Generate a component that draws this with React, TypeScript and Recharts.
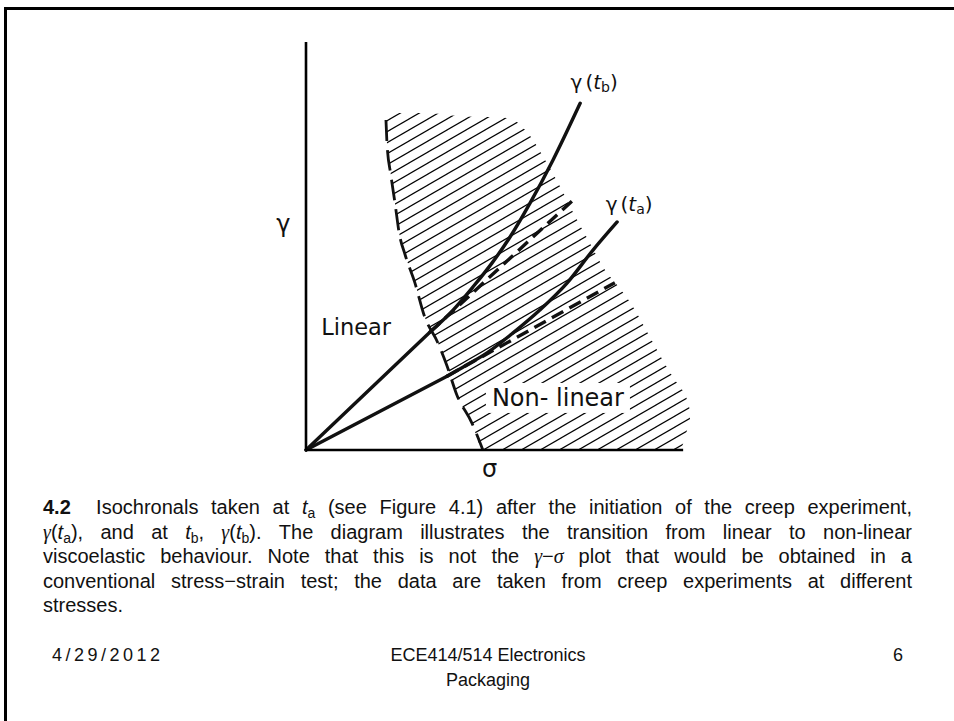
import React from 'react';
import {
  ComposedChart,
  XAxis,
  YAxis,
  Line,
  Area,
  ReferenceLine,
  ReferenceDot,
  LabelList,
} from 'recharts';

// Isochronal γ(t_b): straight (linear viscoelastic) part, then the curved part
const tbLinear = [
  { s: 0, g: 0 },
  { s: 3.29, g: 2.89 },
];
const tbCurve = [
  { s: 3.29, g: 2.89 },
  { s: 3.9, g: 3.43 },
  { s: 4.43, g: 4.0 },
  { s: 4.93, g: 4.58 },
  { s: 5.41, g: 5.22 },
  { s: 5.94, g: 6.05 },
  { s: 6.55, g: 7.11 },
  { s: 7.27, g: 8.5 },
];
// straight-line continuation of γ(t_b), drawn dashed
const tbExtension = [
  { s: 3.29, g: 2.89 },
  { s: 7.05, g: 6.1 },
];

// Isochronal γ(t_a)
const taLinear = [
  { s: 0, g: 0 },
  { s: 3.74, g: 1.81 },
];
const taCurve = [
  { s: 3.74, g: 1.81 },
  { s: 4.16, g: 2.03 },
  { s: 4.8, g: 2.38 },
  { s: 5.49, g: 2.87 },
  { s: 6.2, g: 3.43 },
  { s: 6.92, g: 4.09 },
  { s: 7.61, g: 4.9 },
  { s: 8.25, g: 5.59 },
];
const taExtension = [
  { s: 3.74, g: 1.81 },
  { s: 8.19, g: 4.1 },
];

// Non-linear (hatched) zone: lower and upper edge at each stress value
const zoneSigma = [
  2.12, 2.15, 2.25, 2.36, 2.47, 2.63, 2.89, 3.13, 3.5, 3.74, 4.0, 4.4, 4.69, 5.06, 5.49,
  5.94, 6.34, 6.74, 7.08, 7.45, 7.93, 8.33, 8.67, 9.12, 9.57, 9.84, 9.92, 10.05, 10.18,
];
const zoneLower = [
  8.09, 7.48, 6.74, 6.05, 5.32, 4.78, 4.09, 3.31, 2.62, 2.06, 1.35, 0.66, 0, 0, 0,
  0, 0, 0, 0, 0, 0, 0, 0, 0, 0, 0, 0, 0.32, 0.74,
];
const zoneUpper = [
  8.21, 8.21, 8.22, 8.24, 8.26, 8.26, 8.26, 8.26, 8.24, 8.21, 8.19, 8.17, 8.16, 8.16, 8.09,
  7.7, 7.11, 6.45, 5.83, 5.2, 4.41, 3.95, 3.51, 2.77, 2.03, 1.64, 1.54, 1.37, 0.98,
];
// how many of the zone points lie on the dashed linear/non-linear boundary
const boundaryCount = 13;

// axis extents
const sigmaAxisEnd = 10;
const gammaAxisEnd = 10;

// text placed in the diagram (data coordinates)
const linearTag = { s: 1.33, g: 2.82, text: 'Linear' };
const nonLinearTag = { s: 6.68, g: 1.08, text: 'Non- linear' };
const gammaTag = { s: -0.6, g: 5.34, text: 'γ' };
const sigmaTag = { s: 4.87, g: -0.66, text: 'σ' };

const zone = zoneSigma.map((s, i) => ({ s, band: [zoneLower[i], zoneUpper[i]] }));
const zoneEdge = zoneSigma.slice(0, boundaryCount).map((s, i) => ({ s, g: zoneLower[i] }));

const INK = '#111';
const DIAGRAM_FONT = '"DejaVu Sans", "Noto Sans", sans-serif';
const TEXT_FONT = '"Liberation Sans", Arial, Helvetica, sans-serif';
const GREEK_FONT = '"Liberation Serif", "DejaVu Serif", serif';

// hatch tile: one period of the 30° shading, lines carried across the corners
const HATCH_W = 19;
const HATCH_H = 11;
const hatchPaths = [0, 1, 2].map(
  (k) => `M${-HATCH_W},${(k + 1) * HATCH_H} L${2 * HATCH_W},${(k - 2) * HATCH_H}`
);

// γ(t_x) tag at the top end of an isochronal
const curveTag = (sub: string, count: number, dx: number, dy: number) => (p: any) => {
  if (p.index !== count - 1) return null;
  return (
    <text
      x={p.x + dx}
      y={p.y + dy}
      textAnchor="middle"
      fontFamily={DIAGRAM_FONT}
      fontSize={20}
      fill={INK}
    >
      γ<tspan dx={3}>(</tspan>
      <tspan fontStyle="italic">t</tspan>
      <tspan fontSize={14} dy={3}>
        {sub}
      </tspan>
      <tspan dy={-3}>)</tspan>
    </text>
  );
};

const plainTag = (text: string, size: number) => (p: any) => (
  <text x={p.cx} y={p.cy} textAnchor="middle" fontFamily={DIAGRAM_FONT} fontSize={size} fill={INK}>
    {text}
  </text>
);

const knockoutTag = (text: string, size: number) => (p: any) => (
  <g>
    <rect x={p.cx - 72} y={p.cy - 23} width={144} height={30} fill="#fff" />
    <text x={p.cx} y={p.cy} textAnchor="middle" fontFamily={DIAGRAM_FONT} fontSize={size} fill={INK}>
      {text}
    </text>
  </g>
);

const solid = {
  stroke: INK,
  strokeWidth: 3.4,
  dot: false,
  activeDot: false,
  isAnimationActive: false,
  strokeLinecap: 'round' as const,
};
const dashed = {
  stroke: INK,
  strokeWidth: 3.4,
  strokeDasharray: '13 7',
  dot: false,
  activeDot: false,
  isAnimationActive: false,
};

const Gk = ({ c }: { c: string }) => (
  <span style={{ fontFamily: GREEK_FONT, fontStyle: 'italic' }}>{c}</span>
);
const Tsub = ({ s }: { s: string }) => (
  <>
    <i>t</i>
    <span style={{ fontSize: '0.7em', position: 'relative', top: '0.3em' }}>{s}</span>
  </>
);

const lineStyle = (top: number, justify: boolean): React.CSSProperties => ({
  position: 'absolute',
  left: 43,
  top,
  width: 869,
  fontSize: 20,
  lineHeight: '24.5px',
  textAlign: justify ? 'justify' : 'left',
  textAlignLast: justify ? 'justify' : 'left',
});

export default function App() {
  return (
    <div
      style={{
        position: 'absolute',
        left: 0,
        top: 0,
        width: 954,
        height: 721,
        background: '#fff',
        overflow: 'hidden',
        fontFamily: TEXT_FONT,
        color: INK,
      }}
    >
      <svg width={0} height={0} style={{ position: 'absolute' }}>
        <defs>
          <pattern id="hatch" patternUnits="userSpaceOnUse" width={HATCH_W} height={HATCH_H}>
            {hatchPaths.map((d) => (
              <path key={d} d={d} stroke="#000" strokeWidth={1.2} fill="none" />
            ))}
          </pattern>
        </defs>
      </svg>

      <div
        style={{
          position: 'absolute',
          left: 4,
          top: 7,
          right: 0,
          bottom: 0,
          borderTop: '3px solid #000',
          borderLeft: '3px solid #000',
        }}
      />

      <div style={{ position: 'absolute', left: 200, top: 20 }}>
        <ComposedChart width={560} height={480} margin={{ top: 22, right: 58, bottom: 50, left: 106 }}>
          <XAxis type="number" dataKey="s" domain={[0, 10.5]} hide />
          <YAxis type="number" domain={[0, 10]} hide />

          <Area
            data={zone}
            dataKey="band"
            type="monotone"
            stroke="none"
            fill="url(#hatch)"
            fillOpacity={1}
            activeDot={false}
            isAnimationActive={false}
          />
          <Line
            data={zoneEdge}
            dataKey="g"
            type="monotone"
            stroke={INK}
            strokeWidth={2.8}
            strokeDasharray="21 9"
            dot={false}
            activeDot={false}
            isAnimationActive={false}
          />

          <Line data={tbExtension} dataKey="g" type="linear" {...dashed} />
          <Line data={taExtension} dataKey="g" type="linear" {...dashed} />
          <Line data={tbLinear} dataKey="g" type="linear" {...solid} />
          <Line data={taLinear} dataKey="g" type="linear" {...solid} />
          <Line data={tbCurve} dataKey="g" type="monotone" {...solid}>
            <LabelList dataKey="g" content={curveTag('b', tbCurve.length, 14, -14)} />
          </Line>
          <Line data={taCurve} dataKey="g" type="monotone" {...solid}>
            <LabelList dataKey="g" content={curveTag('a', taCurve.length, 12, -11)} />
          </Line>

          <ReferenceLine
            segment={[
              { x: 0, y: 0 },
              { x: sigmaAxisEnd, y: 0 },
            ]}
            stroke="#000"
            strokeWidth={2.6}
          />
          <ReferenceLine
            segment={[
              { x: 0, y: 0 },
              { x: 0, y: gammaAxisEnd },
            ]}
            stroke="#000"
            strokeWidth={2.6}
          />

          <ReferenceDot
            x={linearTag.s}
            y={linearTag.g}
            r={0}
            ifOverflow="visible"
            shape={plainTag(linearTag.text, 22.5)}
          />
          <ReferenceDot
            x={nonLinearTag.s}
            y={nonLinearTag.g}
            r={0}
            ifOverflow="visible"
            shape={knockoutTag(nonLinearTag.text, 24)}
          />
          <ReferenceDot
            x={gammaTag.s}
            y={gammaTag.g}
            r={0}
            ifOverflow="visible"
            shape={plainTag(gammaTag.text, 24)}
          />
          <ReferenceDot
            x={sigmaTag.s}
            y={sigmaTag.g}
            r={0}
            ifOverflow="visible"
            shape={plainTag(sigmaTag.text, 24)}
          />
        </ComposedChart>
      </div>

      <div style={lineStyle(495, true)}>
        <b>4.2</b>&nbsp; Isochronals taken at <Tsub s="a" /> (see Figure 4.1) after the initiation of the
        creep experiment,
      </div>
      <div style={lineStyle(519.5, true)}>
        <Gk c="γ" />(<Tsub s="a" />), and at <Tsub s="b" />, <Gk c="γ" />(<Tsub s="b" />). The diagram
        illustrates the transition from linear to non-linear
      </div>
      <div style={lineStyle(544, true)}>
        viscoelastic behaviour. Note that this is not the <Gk c="γ" />−<Gk c="σ" /> plot that would be
        obtained in a
      </div>
      <div style={lineStyle(568.5, true)}>
        conventional stress−strain test; the data are taken from creep experiments at different
      </div>
      <div style={lineStyle(593, false)}>stresses.</div>

      <div
        style={{
          position: 'absolute',
          left: 52,
          top: 643,
          fontSize: 18,
          lineHeight: '25px',
          letterSpacing: 3.5,
        }}
      >
        4/29/2012
      </div>
      <div
        style={{
          position: 'absolute',
          left: 388,
          top: 643,
          width: 200,
          textAlign: 'center',
          fontSize: 18,
          lineHeight: '25px',
        }}
      >
        ECE414/514 Electronics
        <br />
        Packaging
      </div>
      <div style={{ position: 'absolute', left: 893, top: 643, fontSize: 18, lineHeight: '25px' }}>
        6
      </div>
    </div>
  );
}
